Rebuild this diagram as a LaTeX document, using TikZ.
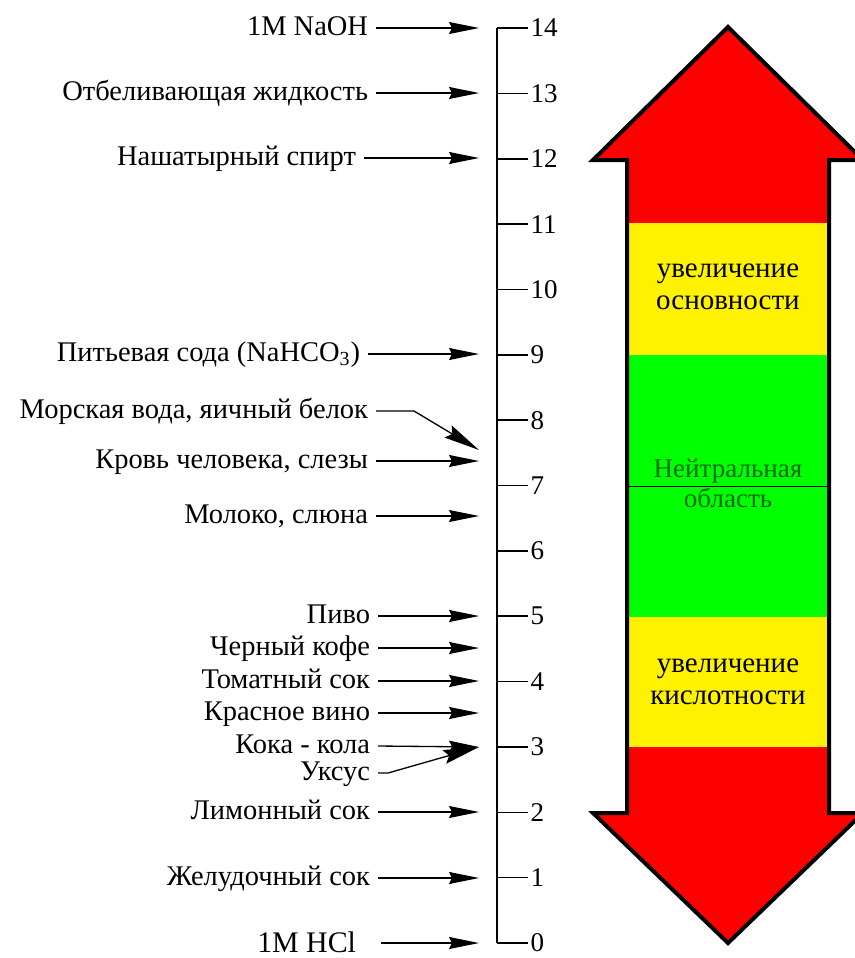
\documentclass[tikz,border=0pt]{standalone}
\usepackage{fontspec}
\setmainfont{Liberation Serif}
\usetikzlibrary{arrows.meta}
\definecolor{vertfonce}{RGB}{0,105,0}

\begin{document}
\begin{tikzpicture}[x=0.02cm,y=-0.02cm,
	lbl/.style={anchor=east,inner sep=0pt,outer sep=0.16cm,font=\fontsize{16.2}{18}\selectfont,text height=11pt,text depth=3pt},
	fleche/.style={line width=0.75pt,-{Stealth[length=0.6cm,width=0.24cm,inset=0.06cm]}},
	oblique/.style={line width=0.75pt,-{Stealth[length=0.72cm,width=0.28cm,inset=0.1cm]}},
	zone/.style={font=\fontsize{16.5}{18.3}\selectfont,align=center,inner sep=0pt}]
	\useasboundingbox (0,0) rectangle (855,958);
	% la grande fleche
	\begin{scope}
	\clip (728,27) -- (593,160) -- (627,160) -- (627,813) -- (593,813) -- (728,943) -- (863,813) -- (829,813) -- (829,160) -- (863,160) -- cycle;
	\fill[red] (580,0) rectangle (880,958);
	\fill[yellow] (627,223) rectangle (829,355);
	\fill[green] (627,355) rectangle (829,617);
	\fill[yellow] (627,617) rectangle (829,747);
	\end{scope}
	\draw[line width=0.08cm,miter limit=20] (728,27) -- (593,160) -- (627,160) -- (627,813) -- (593,813) -- (728,943) -- (863,813) -- (829,813) -- (829,160) -- (863,160) -- cycle;
	\draw[thin] (627,486) -- (829,486); % ligne neutre
	\node[zone] (base) at (728,287) {увеличение\\основности};
	\node[zone] (acide) at (728,682) {увеличение\\кислотности};
	\node[anchor=base,inner sep=0pt,text=vertfonce,font=\fontsize{15.4}{18}\selectfont] (neutre1) at (728,477) {Нейтральная};
	\node[anchor=base,inner sep=0pt,text=vertfonce,font=\fontsize{15.4}{18}\selectfont] (neutre2) at (728,507) {область};
	% l'echelle pH
	\coordinate (haut) at (497,28);
	\coordinate (bas) at (497,943);
	\draw[line width=1pt] (haut) -- (bas);
	\foreach \v in {0,...,14}
		\draw[line width=0.9pt] (497,{943-65.357*\v}) -- ++(31,0) node[anchor=west,inner sep=1pt,font=\fontsize{15.4}{18}\selectfont] (t\v) {\v};
	% points sur l'echelle
	\coordinate (c14) at (479,28);
	\coordinate (c13) at (479,93);
	\coordinate (c12) at (479,158);
	\coordinate (c9) at (479,354);
	\coordinate (c77) at (479,450);
	\coordinate (c74) at (479,461);
	\coordinate (c65) at (479,516);
	\coordinate (c5) at (479,616);
	\coordinate (c45) at (479,648);
	\coordinate (c4) at (479,681);
	\coordinate (c35) at (479,713);
	\coordinate (c3) at (479,747);
	\coordinate (c2) at (479,812);
	\coordinate (c1) at (479,878);
	\coordinate (c0) at (479,943);
	% les substances
	\node[lbl] (naoh) at (376,28) {1M NaOH};
	\node[lbl] (javel) at (376,93) {Отбеливающая жидкость};
	\node[lbl] (ammoniac) at (364,158) {Нашатырный спирт};
	\node[lbl] (soda) at (368,354) {Питьевая сода (NaHCO\textsubscript{3})};
	\node[lbl] (mer) at (376,411) {Морская вода, яичный белок};
	\node[lbl] (sang) at (376,461) {Кровь человека, слезы};
	\node[lbl] (lait) at (376,516) {Молоко, слюна};
	\node[lbl] (biere) at (378,616) {Пиво};
	\node[lbl] (cafe) at (378,648) {Черный кофе};
	\node[lbl] (tomate) at (378,681) {Томатный сок};
	\node[lbl] (vin) at (378,713) {Красное вино};
	\node[lbl] (cola) at (378,746) {Кока - кола};
	\node[lbl] (vinaigre) at (378,773) {Уксус};
	\node[lbl] (citron) at (378,812) {Лимонный сок};
	\node[lbl] (estomac) at (378,878) {Желудочный сок};
	\node[lbl,font=\fontsize{17}{20}\selectfont,outer xsep=0.5cm,text height=13pt,text depth=2pt] (hcl) at (381,943) {1M HCl};
	\draw[fleche] (naoh.east) -- (c14);
	\draw[fleche] (javel.east) -- (c13);
	\draw[fleche] (ammoniac.east) -- (c12);
	\draw[fleche] (soda.east) -- (c9);
	\draw[oblique] (mer.east) -- ++(38,0) -- (c77);
	\draw[fleche] (sang.east) -- (c74);
	\draw[fleche] (lait.east) -- (c65);
	\draw[fleche] (biere.east) -- (c5);
	\draw[fleche] (cafe.east) -- (c45);
	\draw[fleche] (tomate.east) -- (c4);
	\draw[fleche] (vin.east) -- (c35);
	\draw[fleche] (cola.east) -- (c3);
	\draw[oblique] (vinaigre.east) -- ++(10,0) -- (c3);
	\draw[fleche] (citron.east) -- (c2);
	\draw[fleche] (estomac.east) -- (c1);
	\draw[fleche] (hcl.east) -- (c0);
\end{tikzpicture}
\end{document}
